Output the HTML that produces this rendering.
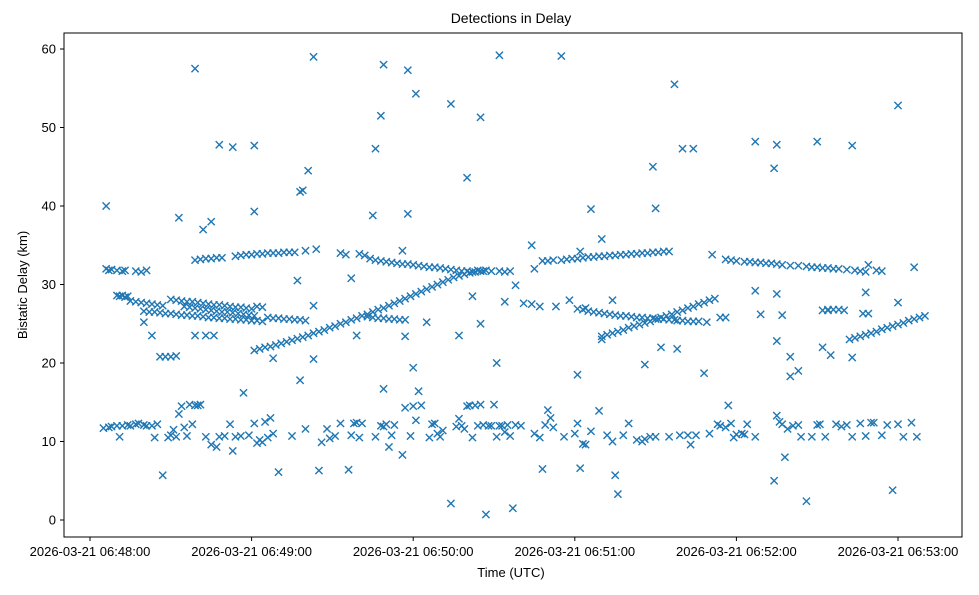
<!DOCTYPE html>
<html><head><meta charset="utf-8"><style>
body{margin:0;background:#fff;font-family:"Liberation Sans","DejaVu Sans",sans-serif;}
svg text{font-family:"Liberation Sans","DejaVu Sans",sans-serif;}
</style></head><body>
<svg id="chart" width="979" height="590" viewBox="0 0 979 590" xmlns="http://www.w3.org/2000/svg">
<rect x="0" y="0" width="979" height="590" fill="#fff"/>
<text x="511" y="23" font-size="14" text-anchor="middle">Detections in Delay</text>
<g id="marks"></g>
<g id="axes"></g>
<rect x="64" y="33" width="898" height="504" fill="none" stroke="#000" stroke-width="1"/>
<text x="511" y="577" font-size="13" text-anchor="middle">Time (UTC)</text>
<text x="27" y="285" font-size="13" text-anchor="middle" transform="rotate(-90 27 285)">Bistatic Delay (km)</text>
</svg>
<script>
const yTicks=[0,10,20,30,40,50,60];
const xTickSeconds=[0,60,120,180,240,300];
const xTickLabels=["2026-03-21 06:48:00","2026-03-21 06:49:00","2026-03-21 06:50:00","2026-03-21 06:51:00","2026-03-21 06:52:00","2026-03-21 06:53:00"];
const bandLow=[[5,11.7],[7,11.8],[8,11.9],[10,12],[11,10.6],[12,12],[14,12.1],[15,12],[17,12.2],[18,12.3],[20,12.1],[21,12],[23,12],[24,10.5],[25,12.2],[27,5.7],[29,10.5],[30,10.8],[31,11.5],[32,10.6],[33,13.5],[34,14.5],[35,11.8],[36,10.7],[37,14.7],[38,12.2],[39,14.6],[40,14.6],[41,14.7],[43,10.6],[45,9.6],[47,9.3],[48,10.6],[50,10.7],[52,12.2],[53,8.8],[54,10.6],[56,10.7],[57,16.2],[59,10.8],[61,12.3],[62,9.8],[63,10.2],[64,9.9],[65,12.5],[66,10.5],[67,13],[68,11],[70,6.1],[75,10.7],[80,11.6],[85,6.3],[86,9.9],[88,11.6],[89,10.4],[91,10.7],[93,12.3],[96,6.4],[97,10.8],[98,12.3],[99,12.4],[100,10.5],[101,12.3],[106,10.6],[108,12],[109,11.9],[110,12.2],[111,9.3],[112,10.8],[113,12.1],[116,8.3],[117,14.3],[119,10.7],[120,14.5],[121,12.7],[122,16.4],[123,14.6],[126,10.5],[127,12.2],[128,12.3],[129,11],[130,10.6],[131,11.4],[134,2.1],[136,11.9],[137,12.9],[138,12],[139,11.6],[140,14.5],[141,14.6],[142,10.5],[143,14.6],[144,12],[145,14.7],[146,12.1],[147,0.7],[148,12],[149,12],[150,14.7],[151,10.6],[152,12],[153,12],[154,11.2],[155,12.1],[156,10.7],[157,1.5],[158,12.1],[160,12],[165,11],[167,10.5],[168,6.5],[169,12.1],[170,14],[171,13],[172,11.8],[176,10.6],[180,11],[181,12.3],[183,9.7],[184,9.6],[186,11.3],[189,13.9],[192,10.8],[194,10],[195,5.7],[196,3.3],[198,10.8],[200,12.3],[203,10.2],[205,10],[206,10.3],[208,10.6],[210,10.6],[215,10.6],[219,10.8],[222,10.8],[223,9.6],[225,10.8],[230,11],[233,12.2],[234,12],[236,11.8],[237,14.6],[238,12.3],[239,10.5],[240,10.9],[242,11],[243,10.9],[244,12.2],[247,10.6],[254,5],[255,13.3],[256,12.5],[257,12.2],[258,8],[259,11.6],[261,12],[263,12.1],[264,10.6],[266,2.4],[268,10.6],[270,12.1],[271,12.2],[273,10.6],[277,12.2],[279,11.9],[281,12.1],[283,10.6],[286,12.3],[288,10.7],[290,12.4],[291,12.4],[294,10.8],[296,12.1],[298,3.8],[300,12.2],[302,10.6],[305,12.4],[307,10.6]];
const earlyTracks=[[6,32],[7,31.8],[8,31.9],[10,31.8],[12,31.7],[13,31.8],[17,31.7],[19,31.6],[21,31.8],[10,28.6],[11,28.5],[12,28.6],[13,28.4],[14,28.5],[15,27.9],[17,27.8],[19,27.7],[21,27.6],[23,27.5],[25,27.4],[27,27.3],[39,33.1],[41,33.2],[43,33.3],[45,33.3],[47,33.4],[49,33.4],[54,33.6],[56,33.7],[58,33.8],[60,33.8],[62,33.9],[64,33.9],[66,34],[68,34],[70,34],[72,34.1],[74,34.1],[76,34.1],[80,34.3],[30,28.1],[32,28],[34,27.9],[36,27.8],[38,27.8],[40,27.7],[42,27.6],[44,27.5],[46,27.4],[48,27.4],[50,27.3],[52,27.2],[54,27.1],[56,27.1],[58,27],[60,26.9],[62,27.2],[64,27.1],[20,26.6],[22,26.5],[24,26.5],[26,26.4],[28,26.3],[30,26.3],[32,26.2],[34,26.1],[36,26.1],[38,26],[40,26],[42,25.9],[44,25.8],[46,25.8],[48,25.7],[50,25.7],[52,25.6],[54,25.6],[56,25.5],[58,25.5],[60,25.4],[62,25.4],[64,25.3],[66,25.8],[68,25.7],[70,25.7],[72,25.6],[74,25.6],[76,25.5],[78,25.5],[80,25.4],[35,27.2],[37,27.1],[39,27],[41,26.9],[43,26.8],[45,26.7],[47,26.6],[49,26.5],[51,26.5],[53,26.4],[55,26.3],[57,26.2],[59,26.1],[61,26]];
const midTracks=[[61,21.6],[63,21.8],[65,22],[67,22.1],[69,22.3],[71,22.5],[73,22.7],[75,22.9],[77,23.1],[79,23.3],[81,23.5],[83,23.8],[85,24],[87,24.2],[89,24.5],[91,24.7],[93,25],[95,25.2],[97,25.5],[99,25.7],[101,26],[103,26.2],[105,26.5],[107,26.8],[109,27],[111,27.3],[113,27.6],[115,27.9],[117,28.2],[119,28.5],[121,28.8],[123,29.1],[125,29.4],[127,29.7],[129,30],[131,30.3],[133,30.6],[135,30.9],[137,31.1],[139,31.3],[141,31.5],[143,31.6],[145,31.7],[147,31.8],[149,31.7],[93,34],[95,33.8],[100,33.9],[102,33.7],[104,33.3],[106,33.1],[108,33],[110,32.9],[112,32.8],[114,32.7],[116,32.6],[118,32.6],[120,32.5],[122,32.4],[124,32.3],[126,32.2],[128,32.2],[130,32.1],[132,32],[134,31.9],[136,31.8],[138,31.7],[140,31.7],[142,31.6],[144,31.8],[146,31.7],[103,25.9],[105,25.8],[107,25.7],[109,25.7],[111,25.6],[113,25.6],[115,25.5],[117,25.5],[152,31.7],[154,31.6],[156,31.7],[161,27.6],[164,27.5]];
const lateTracks=[[168,33],[170,33],[172,33.1],[175,33.1],[177,33.2],[179,33.3],[181,33.3],[183,33.4],[185,33.5],[187,33.5],[189,33.6],[191,33.6],[193,33.7],[195,33.7],[197,33.8],[199,33.8],[201,33.9],[203,33.9],[205,34],[207,34],[209,34.1],[211,34.1],[213,34.2],[215,34.2],[190,23.4],[192,23.6],[194,23.8],[196,24],[198,24.2],[200,24.5],[202,24.7],[204,24.9],[206,25.1],[208,25.3],[210,25.6],[212,25.8],[214,26],[216,26.2],[218,26.5],[220,26.7],[222,27],[224,27.2],[226,27.5],[228,27.7],[230,28],[232,28.2],[181,26.9],[183,26.8],[185,26.6],[187,26.5],[189,26.4],[191,26.3],[193,26.2],[195,26.1],[197,26],[199,26],[201,25.9],[203,25.8],[205,25.8],[207,25.7],[209,25.7],[211,25.6],[213,25.6],[215,25.5],[217,25.5],[218,25.4],[220,25.4],[222,25.3],[224,25.3],[226,25.3],[229,25.2],[234,25.8],[236,25.8],[236,33.2],[238,33.1],[240,33],[243,32.9],[245,32.9],[247,32.8],[249,32.8],[251,32.7],[253,32.7],[255,32.6],[257,32.5],[260,32.4],[263,32.4],[266,32.3],[268,32.2],[270,32.2],[272,32.1],[274,32.1],[276,32],[278,32],[281,31.9],[284,31.8],[286,31.7],[288,31.6],[292,31.8],[294,31.7],[282,23],[284,23.2],[286,23.4],[288,23.6],[290,23.8],[292,24],[294,24.3],[296,24.5],[298,24.7],[300,24.9],[302,25.1],[304,25.4],[306,25.6],[308,25.8],[310,26],[272,26.7],[274,26.8],[276,26.8],[278,26.8],[280,26.7],[287,26.3],[289,26.3]];
const outliers=[[6,40],[39,57.5],[33,38.5],[42,37],[45,38],[48,47.8],[53,47.5],[61,47.7],[61,39.3],[83,59],[81,44.5],[79,42],[78,41.8],[84,34.5],[77,30.5],[83,27.3],[68,20.6],[78,17.8],[83,20.5],[26,20.8],[28,20.8],[30,20.8],[32,20.9],[23,23.5],[20,25.2],[39,23.5],[43,23.5],[46,23.5],[97,30.8],[99,23.5],[105,38.8],[106,47.3],[108,51.5],[109,58],[109,16.7],[116,34.3],[118,39],[117,23.4],[120,19.4],[118,57.3],[121,54.3],[125,25.2],[134,53],[140,43.6],[145,51.3],[137,23.5],[142,28.5],[145,25],[152,59.2],[151,20],[158,29.9],[154,27.8],[164,35],[165,32],[167,27.2],[175,59.1],[173,27.2],[178,28],[182,6.6],[181,18.5],[182,34.2],[186,39.6],[184,27],[190,35.8],[194,28],[190,23],[209,45],[210,39.7],[217,55.5],[220,47.3],[224,47.3],[212,22],[218,21.8],[206,19.8],[228,18.7],[231,33.8],[247,48.2],[254,44.8],[255,47.8],[247,29.2],[249,26.2],[257,26.1],[255,28.8],[255,22.8],[260,20.8],[260,18.3],[263,19],[270,48.2],[283,47.7],[274,26.7],[272,22],[275,21],[283,20.7],[288,29],[289,32.5],[300,27.7],[300,52.8],[306,32.2]];
const allPoints=[].concat(bandLow,earlyTracks,midTracks,lateTracks,outliers);
const NS="http://www.w3.org/2000/svg";
function xScale(s){return 90+s*(161.6/60);}
function yScale(v){return 520-v*7.85;}
const marks=document.getElementById('marks');
allPoints.forEach(function(p,i){
  const cx=xScale(p[0]),cy=yScale(p[1]),r=3.6;
  const path=document.createElementNS(NS,'path');
  path.setAttribute('d','M'+(cx-r)+' '+(cy-r)+'L'+(cx+r)+' '+(cy+r)+'M'+(cx-r)+' '+(cy+r)+'L'+(cx+r)+' '+(cy-r));
  path.setAttribute('stroke','#1f77b4');
  path.setAttribute('stroke-width','1.4');
  
  
  marks.appendChild(path);
});
const axes=document.getElementById('axes');
yTicks.forEach(function(v){
  const y=yScale(v);
  const l=document.createElementNS(NS,'line');
  l.setAttribute('x1',60);l.setAttribute('x2',64);l.setAttribute('y1',y);l.setAttribute('y2',y);l.setAttribute('stroke','#000');
  
  
  axes.appendChild(l);
  const t=document.createElementNS(NS,'text');
  t.setAttribute('x',56);t.setAttribute('y',y+4.5);t.setAttribute('font-size','13');t.setAttribute('text-anchor','end');
  t.textContent=v;
  
  
  axes.appendChild(t);
});
xTickSeconds.forEach(function(s,i){
  const x=xScale(s);
  const l=document.createElementNS(NS,'line');
  l.setAttribute('x1',x);l.setAttribute('x2',x);l.setAttribute('y1',537);l.setAttribute('y2',541);l.setAttribute('stroke','#000');
  
  
  axes.appendChild(l);
  const t=document.createElementNS(NS,'text');
  t.setAttribute('x',x);t.setAttribute('y',556);t.setAttribute('font-size','13');t.setAttribute('text-anchor','middle');
  t.textContent=xTickLabels[i];
  
  
  axes.appendChild(t);
});
</script>
</body></html>
